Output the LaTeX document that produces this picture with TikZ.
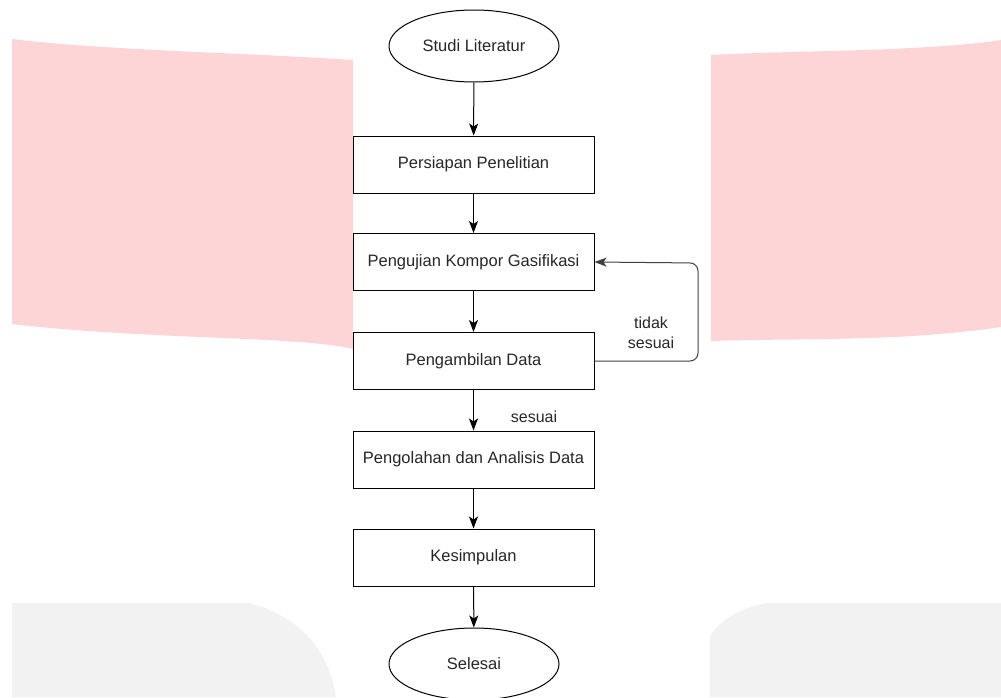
\documentclass[tikz,border=0pt]{standalone}
\usepackage{fontspec}
\setmainfont{Liberation Sans}
\usetikzlibrary{arrows.meta,shapes.geometric}
\definecolor{wmpink}{HTML}{FDD5D6}
\definecolor{wmgray}{HTML}{F2F2F2}
\definecolor{txt}{HTML}{262626}
\begin{document}
\begin{tikzpicture}[x=1pt,y=-1pt,
  stepbox/.style={draw=black,line width=1pt,minimum width=241pt,minimum height=57pt,inner sep=0pt,font=\fontsize{16.5}{19}\selectfont,text=txt},
  term/.style={draw=black,line width=1pt,ellipse,minimum width=170pt,minimum height=72pt,inner sep=0pt,font=\fontsize{16.5}{19}\selectfont,text=txt},
  arr/.style={draw=black,line width=1pt,-{Stealth[length=12pt,width=9pt,inset=3pt]}},
  lbl/.style={font=\fontsize{16}{19.5}\selectfont,text=txt,align=center,inner sep=0pt}]
\useasboundingbox (0,0) rectangle (1001,697);
% watermark shapes
\fill[wmpink] (12,39) .. controls (100,50) and (250,53) .. (353,60) -- (353,349) .. controls (300,336) and (150,340) .. (12,324) -- cycle;
\fill[wmpink] (711,55) .. controls (800,50) and (920,52) .. (1001,40) -- (1001,327) .. controls (900,342) and (800,338) .. (711,341) -- cycle;
\fill[wmgray] (12,697) -- (12,603) -- (250,603) .. controls (310,620) and (330,660) .. (336,697) -- cycle;
\fill[wmgray] (1001,697) -- (1001,603) -- (766,603) .. controls (740,608) and (720,620) .. (710,636) -- (710,697) -- cycle;
% nodes
\node[term] (start) at (474,46) {Studi Literatur};
\node[stepbox] (prep) at (473.5,164.5) {Persiapan Penelitian};
\node[stepbox] (test) at (473.5,262) {Pengujian Kompor Gasifikasi};
\node[stepbox] (data) at (473.5,361) {Pengambilan Data};
\node[stepbox] (proc) at (473.5,459.5) {Pengolahan dan Analisis Data};
\node[stepbox] (concl) at (473.5,557.5) {Kesimpulan};
\node[term] (end) at (474,664) {Selesai};
% connectors
\draw[arr] (start) -- (prep);
\draw[arr] (prep) -- (test);
\draw[arr] (test) -- (data);
\draw[arr] (data) -- (proc);
\draw[arr] (proc) -- (concl);
\draw[arr] (concl) -- (end);
\coordinate (lb) at (698,361);
\coordinate (lt) at (698,263);
\draw[arr,draw=black!75,rounded corners=8pt] (data.east) -- (lb) -- (lt) -- (test.east);
\node[lbl] (nok) at (651,333) {tidak\\sesuai};
\node[lbl] (ok) at (534,417) {sesuai};
\end{tikzpicture}
\end{document}
